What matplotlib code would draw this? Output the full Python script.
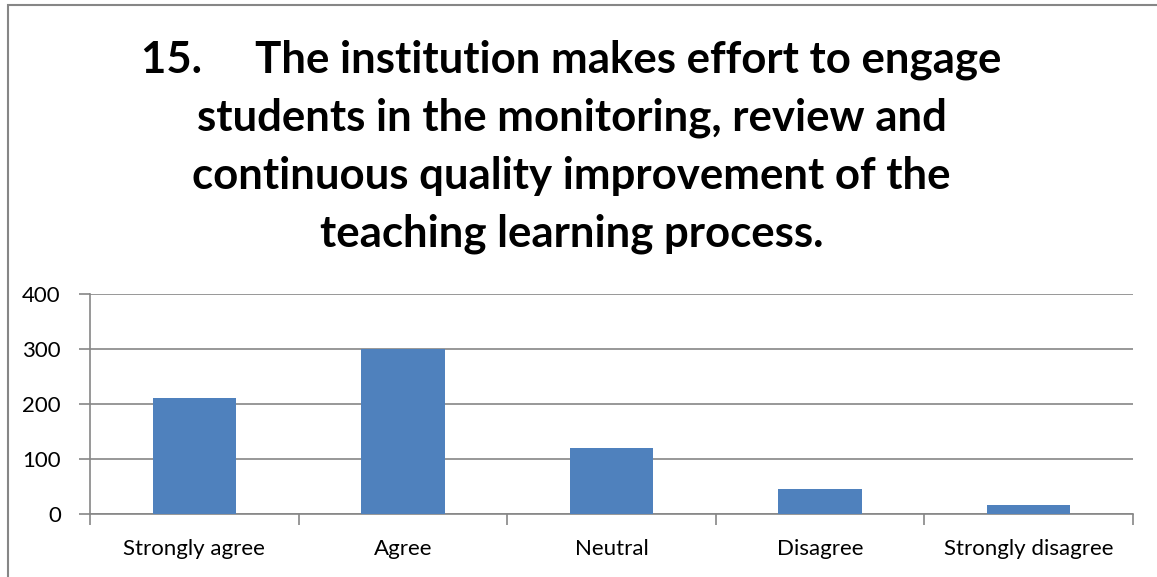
import matplotlib
matplotlib.use('Agg')
import matplotlib.pyplot as plt
from matplotlib.patches import Rectangle

# =====================
# DATA
# =====================
categories = ['Strongly agree', 'Agree', 'Neutral', 'Disagree', 'Strongly disagree']
counts     = [211, 300, 121, 46, 17]
y_ticks    = [0, 100, 200, 300, 400]
title_lines = [
    '15.     The institution makes effort to engage',
    'students in the monitoring, review and',
    'continuous quality improvement of the',
    'teaching learning process.',
]

BAR_COLOR  = '#4F81BD'
GRID_COLOR = '#868686'
FONT = ['Lato', 'DejaVu Sans']

plt.rcParams['font.family'] = FONT

fig = plt.figure(figsize=(11.57, 5.77), dpi=100)

# chart border (cut at right/bottom like the screenshot)
fig.patches.append(Rectangle((8 / 1157, -0.1), 1.2, 1 - 5 / 577 + 0.1,
                             transform=fig.transFigure, fill=False,
                             edgecolor=GRID_COLOR, linewidth=1.5))

# title, one line at a time (baselines ~58 px apart)
for i, line in enumerate(title_lines):
    y_px = 73 + i * 58
    fig.text(0.494, 1 - y_px / 577, line, ha='center', va='baseline',
             fontsize=31.5, fontweight='bold', color='black')

ax = fig.add_axes([90 / 1157, 1 - 514.3 / 577, (1133 - 90) / 1157, (514.3 - 294) / 577])

x = range(len(categories))
ax.bar(x, counts, width=0.4, color=BAR_COLOR, zorder=3)

ax.set_xlim(-0.5, len(categories) - 0.5)
ax.set_ylim(0, 400)
ax.set_yticks(y_ticks)
ax.set_yticklabels([str(v) for v in y_ticks], fontsize=16)
ax.yaxis.grid(True, color=GRID_COLOR, linewidth=1.2, zorder=0)

ax.set_xticks([i - 0.5 for i in range(len(categories) + 1)])
ax.set_xticklabels([])
ax.set_xticks(list(x), minor=True)
ax.set_xticklabels(categories, minor=True, fontsize=16)
ax.tick_params(axis='x', which='minor', length=0, pad=18)
ax.tick_params(axis='x', which='major', length=8, color=GRID_COLOR, width=1.2)
ax.tick_params(axis='y', length=8, color=GRID_COLOR, width=1.2, pad=13)

for side in ['top', 'right']:
    ax.spines[side].set_visible(False)
for side in ['left', 'bottom']:
    ax.spines[side].set_color(GRID_COLOR)
    ax.spines[side].set_linewidth(1.2)

fig.savefig('out.png', dpi=100)
